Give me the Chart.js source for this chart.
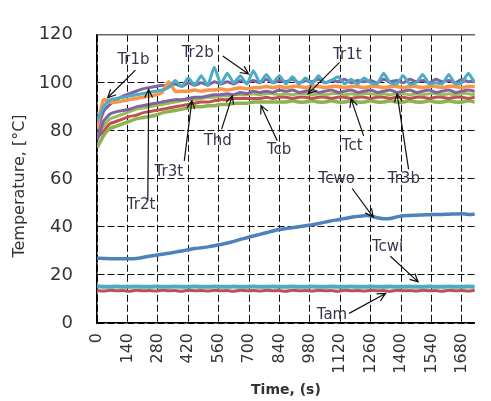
<!DOCTYPE html>
<html>
<head>
<meta charset="utf-8">
<script src="https://cdn.jsdelivr.net/npm/chart.js"></script>
<style>
  html, body { margin: 0; padding: 0; background: #fff; overflow: hidden; }
</style>
</head>
<body>
<canvas id="tempChart" width="491" height="401"></canvas>
<script>
// Time, s (30 s sampling)
const time = [0, 30, 60, 90, 120, 150, 180, 210, 240, 270, 300, 330, 360, 390, 420, 450, 480, 510, 540, 570,
  600, 630, 660, 690, 720, 750, 780, 810, 840, 870, 900, 930, 960, 990, 1020, 1050, 1080, 1110, 1140, 1170,
  1200, 1230, 1260, 1290, 1320, 1350, 1380, 1410, 1440, 1470, 1500, 1530, 1560, 1590, 1620, 1650, 1680, 1710, 1740];

// Temperatures, °C
const tr2b = [84, 90, 93, 93.5, 94, 94.5, 95, 95.5, 96, 96.5, 97, 98, 101, 98.5, 102, 99, 103, 99, 106.5, 99.5,
  104, 100, 103, 99.5, 105, 100, 103.5, 100, 103, 99.5, 102.5, 99.5, 102, 99.5, 103, 100, 101, 102.5, 99.5, 101.5,
  99.5, 102, 100, 99.5, 104, 100, 99.5, 103, 99.5, 100, 103.5, 99.5, 100, 99.5, 103.5, 99.5, 100, 104, 100];
const tr1b = [81, 93, 92, 92, 92.5, 93, 93.5, 94, 94.5, 95, 96, 100.5, 96.5, 96.5, 96.5, 97, 96.5, 97, 97, 97.5,
  97, 97.5, 98, 97.5, 98, 98, 98.5, 98, 98.5, 98, 98.5, 98.5, 98, 98.5, 98.5, 98, 98.5, 98.5, 98, 98.5,
  98.5, 98, 98.5, 98.5, 98, 98.5, 98.5, 98, 98.5, 98.5, 98, 98.5, 98.5, 98, 98.5, 98.5, 98, 98.5, 98.5];
const tr1t = [80, 88, 91, 93, 94.5, 95.5, 96.5, 97.5, 98, 98.5, 99, 98.5, 99.5, 98.5, 100, 99, 100, 99, 100.5, 99.5,
  100.5, 99.5, 101, 100, 101, 100, 101.5, 100, 101, 100.5, 101.5, 100, 101, 100.5, 101.5, 100, 101, 100.5, 101.5, 100,
  101, 100.5, 101, 100, 101.5, 100.5, 101, 100, 101.5, 100.5, 101, 100, 101.5, 100.5, 101, 100, 101.5, 100.5, 101];
const tr3b = [76, 84, 87, 88, 88.5, 89, 90, 90.5, 91, 91.5, 92, 92.5, 93, 93, 93.5, 94, 94, 94.5, 95, 95,
  95.5, 95, 96, 95.5, 96.5, 96, 96.5, 96, 97, 96.5, 97, 96, 96.5, 97, 96, 96.5, 97, 96, 96.5, 97,
  96, 96.5, 97, 96, 96.5, 97, 96, 96.5, 97, 96, 96.5, 97, 96, 96.5, 97, 96, 96.5, 97, 96.5];
const tct = [78, 82, 85, 86, 87, 88, 89, 89.5, 90, 90.5, 91, 91.5, 92, 92.5, 93, 93, 93.5, 94, 94, 94.5,
  94.5, 95, 95, 95, 95.5, 95, 95.5, 95.5, 95, 95.5, 95, 95.5, 95.5, 95, 95.5, 95, 95.5, 95.5, 95, 95.5,
  95, 95.5, 95.5, 95, 95.5, 95, 95.5, 95.5, 95, 95.5, 95, 95.5, 95.5, 95, 95.5, 95, 95.5, 95.5, 95];
const tcb = [77, 80, 83, 84, 85, 86, 86.5, 87.5, 88, 88.5, 89, 89.5, 90, 90.5, 91, 91.5, 92, 92, 92.5, 93,
  93, 93.5, 93.5, 93.5, 93.5, 93.5, 94, 93.5, 94, 94, 93.5, 94, 94, 93.5, 94, 94, 93.5, 94, 94, 93.5,
  94, 94, 93.5, 94, 94, 93.5, 94, 94, 93.5, 94, 94, 93.5, 94, 94, 93.5, 94, 94, 93.5, 94];
const thd = [73, 78, 81, 82, 83, 84, 85, 85.5, 86, 86.5, 87.5, 88, 88.5, 89, 89.5, 90, 90, 90.5, 90.5, 91,
  91, 91.5, 91.5, 91.5, 92, 92, 92, 92, 92, 92, 92.5, 92, 92, 92.5, 92, 92, 92.5, 92, 92, 92.5,
  92, 92, 92.5, 92, 92, 92.5, 92, 92, 92.5, 92, 92, 92.5, 92, 92, 92.5, 92, 92, 92.5, 92];
const tcwo = [27, 26.9, 26.8, 26.8, 26.8, 26.8, 26.9, 27.3, 27.8, 28.2, 28.6, 29, 29.5, 30, 30.5, 31, 31.3, 31.7, 32.2, 32.7,
  33.3, 34, 34.8, 35.5, 36.2, 36.9, 37.6, 38.3, 38.9, 39.3, 39.7, 40.1, 40.5, 40.9, 41.4, 42, 42.6, 43, 43.5, 44,
  44.4, 44.7, 44.6, 43.8, 43.4, 43.5, 44.2, 44.7, 44.8, 44.9, 45, 45.1, 45.2, 45.2, 45.3, 45.4, 45.5, 45.2, 45.3];
const tcwi = [15.2, 15.1, 15.1, 15.2, 15.1, 15.1, 15.2, 15.1, 15.1, 15.2, 15.1, 15.1, 15.2, 15.1, 15.1, 15.2, 15.1, 15.1, 15.2, 15.1,
  15.1, 15.2, 15.1, 15.1, 15.2, 15.1, 15.1, 15.2, 15.1, 15.1, 15.2, 15.1, 15.1, 15.2, 15.1, 15.1, 15.2, 15.1, 15.1, 15.2,
  15.1, 15.1, 15.2, 15.1, 15.1, 15.2, 15.1, 15.1, 15.2, 15.1, 15.1, 15.2, 15.1, 15.1, 15.2, 15.1, 15.1, 15.2, 15.1];
const tam = [13.5, 13.3, 13.6, 13.4, 13.5, 13.2, 13.6, 13.4, 13.5, 13.3, 13.6, 13.4, 13.5, 13.2, 13.6, 13.4, 13.5, 13.3, 13.6, 13.4,
  13.5, 13.2, 13.6, 13.4, 13.5, 13.3, 13.6, 13.4, 13.5, 13.2, 13.6, 13.4, 13.5, 13.3, 13.6, 13.4, 13.5, 13.2, 13.6, 13.4,
  13.5, 13.3, 13.6, 13.4, 13.5, 13.2, 13.6, 13.4, 13.5, 13.3, 13.6, 13.4, 13.5, 13.2, 13.6, 13.4, 13.5, 13.3, 13.6];

// Axis ticks
const xTicks = [0, 140, 280, 420, 560, 700, 840, 980, 1120, 1260, 1400, 1540, 1680];
const yTicks = [0, 10, 20, 30, 40, 50, 60, 70, 80, 90, 100, 110, 120];

// Callouts: name, text position (time, temp), arrow start, arrow tip
const calloutNames = ['Tr1b', 'Tr2b', 'Tr1t', 'Tr2t', 'Tr3t', 'Thd', 'Tcb', 'Tct', 'Tr3b', 'Tcwo', 'Tcwi', 'Tam'];
const calloutText = [[168, 109.3], [464, 112.4], [1153, 111.6], [203, 48.9], [331, 62.8], [556, 75.9],
  [839, 71.9], [1175, 73.5], [1413, 60], [1104, 60], [1338, 31.8], [1082, 3.2]];
const arrowFrom = [[177, 105.3], [579, 111.2], [1117, 108.5], [234, 50.9], [402, 67.5], [574, 80.7],
  [830, 75.9], [1228, 77.9], [1435, 64], [1175, 56], [1351, 27.8], [1161, 4]];
const arrowTo = [[49, 93.8], [698, 103.7], [972, 95.4], [238, 97.3], [437, 92.6], [623, 94.6],
  [755, 90.6], [1170, 93.3], [1382, 95.4], [1272, 44.1], [1479, 17.1], [1329, 12.3]];

const series = (vals) => time.map((t, i) => ({ x: t, y: vals[i] }));
const line = (label, vals, color, width) => ({
  label, data: series(vals), borderColor: color, backgroundColor: color,
  borderWidth: width, pointRadius: 0, tension: 0.15, fill: false
});

const frameAndCallouts = {
  id: 'frameAndCallouts',
  beforeDatasetsDraw(chart) {
    const { ctx, chartArea } = chart;
    ctx.save();
    ctx.strokeStyle = '#666';
    ctx.lineWidth = 1.5;
    ctx.beginPath();
    ctx.moveTo(chartArea.left, chartArea.top);
    ctx.lineTo(chartArea.right, chartArea.top);
    ctx.stroke();
    ctx.restore();
  },
  afterDatasetsDraw(chart) {
    const { ctx, scales: { x, y } } = chart;
    ctx.save();
    ctx.strokeStyle = '#111';
    ctx.lineWidth = 1.2;
    calloutNames.forEach((name, i) => {
      const x0 = x.getPixelForValue(arrowFrom[i][0]), y0 = y.getPixelForValue(arrowFrom[i][1]);
      const x1 = x.getPixelForValue(arrowTo[i][0]), y1 = y.getPixelForValue(arrowTo[i][1]);
      const a = Math.atan2(y1 - y0, x1 - x0), h = 9, s = 0.45;
      ctx.beginPath();
      ctx.moveTo(x0, y0);
      ctx.lineTo(x1, y1);
      ctx.moveTo(x1 - h * Math.cos(a - s), y1 - h * Math.sin(a - s));
      ctx.lineTo(x1, y1);
      ctx.lineTo(x1 - h * Math.cos(a + s), y1 - h * Math.sin(a + s));
      ctx.stroke();
    });
    ctx.font = '15px "DejaVu Sans"';
    ctx.fillStyle = '#35354f';
    ctx.textAlign = 'center';
    ctx.textBaseline = 'middle';
    calloutNames.forEach((name, i) => {
      ctx.fillText(name, x.getPixelForValue(calloutText[i][0]), y.getPixelForValue(calloutText[i][1]));
    });
    // y axis title
    ctx.translate(20, 186);
    ctx.rotate(-Math.PI / 2);
    ctx.font = '16px "DejaVu Sans"';
    ctx.fillStyle = '#333';
    ctx.fillText('Temperature, [°C]', 0, 0);
    ctx.restore();
  }
};

new Chart(document.getElementById('tempChart'), {
  type: 'line',
  data: {
    datasets: [
      line('Tr2b', tr2b, '#4bacc6', 3),
      line('Tr1b', tr1b, '#f79646', 3.5),
      line('Tr1t', tr1t, '#8064a2', 3),
      line('Tr3b', tr3b, '#8064a2', 3),
      line('Tct', tct, '#9bbb59', 3),
      line('Tcb', tcb, '#c0504d', 3),
      line('Thd', thd, '#8db24f', 3.5),
      line('Tcwo', tcwo, '#4f81bd', 3.5),
      line('Tcwi', tcwi, '#4bacc6', 4),
      line('Tam', tam, '#c0504d', 3)
    ]
  },
  options: {
    responsive: false,
    animation: false,
    layout: { padding: { top: 21, right: 0, left: 0, bottom: 0 } },
    plugins: { legend: { display: false }, tooltip: { enabled: false } },
    scales: {
      x: {
        type: 'linear',
        min: 0,
        max: 1740,
        afterBuildTicks: axis => { axis.ticks = xTicks.map(v => ({ value: v })); },
        afterFit: axis => { axis.height = 78; },
        grid: { color: '#111', lineWidth: 1, drawTicks: false },
        border: { display: true, color: '#000', width: 1.5, dash: [7, 3] },
        ticks: {
          color: '#333', font: { family: 'DejaVu Sans', size: 16 },
          minRotation: 90, maxRotation: 90, padding: 10, autoSkip: false,
          callback: v => String(v)
        },
        title: {
          display: true, text: 'Time, (s)', color: '#333',
          font: { family: 'DejaVu Sans', size: 14, weight: 'bold' },
          padding: { top: 0, bottom: 2 }
        }
      },
      y: {
        min: 0,
        max: 120,
        afterBuildTicks: axis => { axis.ticks = yTicks.map(v => ({ value: v })); },
        afterFit: axis => { axis.width = 97; },
        grid: { color: '#111', lineWidth: 1, drawTicks: false },
        border: { display: true, color: '#000', width: 1.5, dash: [7, 3] },
        ticks: {
          color: '#333', font: { family: 'DejaVu Sans', size: 18 }, padding: 24,
          callback: v => String(v)
        }
      }
    }
  },
  plugins: [frameAndCallouts]
});
</script>
</body>
</html>
